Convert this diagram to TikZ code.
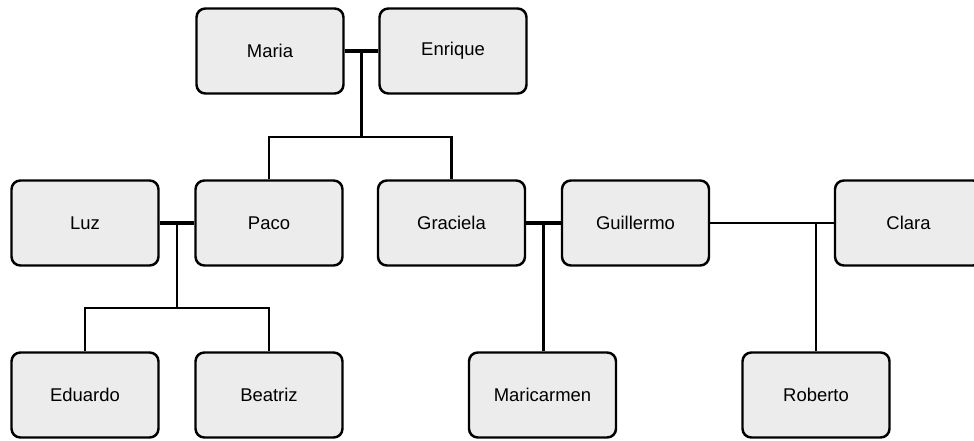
\documentclass[tikz,border=0pt]{standalone}
\usepackage{fontspec}
\setmainfont{Liberation Sans}
\usepackage{tikz}

\begin{document}
\begin{tikzpicture}[
    person/.style={draw, line width=1.4pt, rounded corners=5pt, fill=gray!15,
        minimum width=2.94cm, minimum height=1.70cm, font=\fontsize{10.5}{12}\selectfont},
    couple/.style={line width=2.6pt},
    line/.style={line width=1.3pt}
  ]
    % Frame of the picture
    \useasboundingbox (0,0) rectangle (19.48,8.8);

    % Rows
    \def\rowA{7.78}
    \def\rowB{4.34}
    \def\rowC{0.90}

    % First generation
    \node[person] (maria)   at (5.40,\rowA) {Maria};
    \node[person] (enrique) at (9.06,\rowA) {Enrique};

    % Second generation
    \node[person] (luz)       at (1.70,\rowB)  {Luz};
    \node[person] (paco)      at (5.38,\rowB)  {Paco};
    \node[person] (graciela)  at (9.03,\rowB)  {Graciela};
    \node[person] (guillermo) at (12.71,\rowB) {Guillermo};
    \node[person] (clara)     at (18.17,\rowB) {Clara};

    % Third generation
    \node[person] (eduardo)    at (1.70,\rowC)  {Eduardo};
    \node[person] (beatriz)    at (5.38,\rowC)  {Beatriz};
    \node[person] (maricarmen) at (10.85,\rowC) {Maricarmen};
    \node[person] (roberto)    at (16.32,\rowC) {Roberto};

    % Maria + Enrique -> Paco, Graciela
    \draw[couple] (maria) -- coordinate (me) (enrique);
    \draw[line] (me) -- ++(0,-1.72) coordinate (mekids);
    \draw[line] (paco.north) |- (mekids) -| (graciela.north);

    % Luz + Paco -> Eduardo, Beatriz
    \draw[couple] (luz) -- coordinate (lp) (paco);
    \draw[line] (lp) -- ++(0,-1.70) coordinate (lpkids);
    \draw[line] (eduardo.north) |- (lpkids) -| (beatriz.north);

    % Graciela + Guillermo -> Maricarmen
    \draw[couple] (graciela) -- coordinate (gg) (guillermo);
    \draw[line] (gg) -- (gg |- maricarmen.north);

    % Guillermo + Clara -> Roberto
    \draw[line] (guillermo) -- (clara);
    \draw[line] (roberto.north) -- (roberto.north |- clara.west);
\end{tikzpicture}
\end{document}
